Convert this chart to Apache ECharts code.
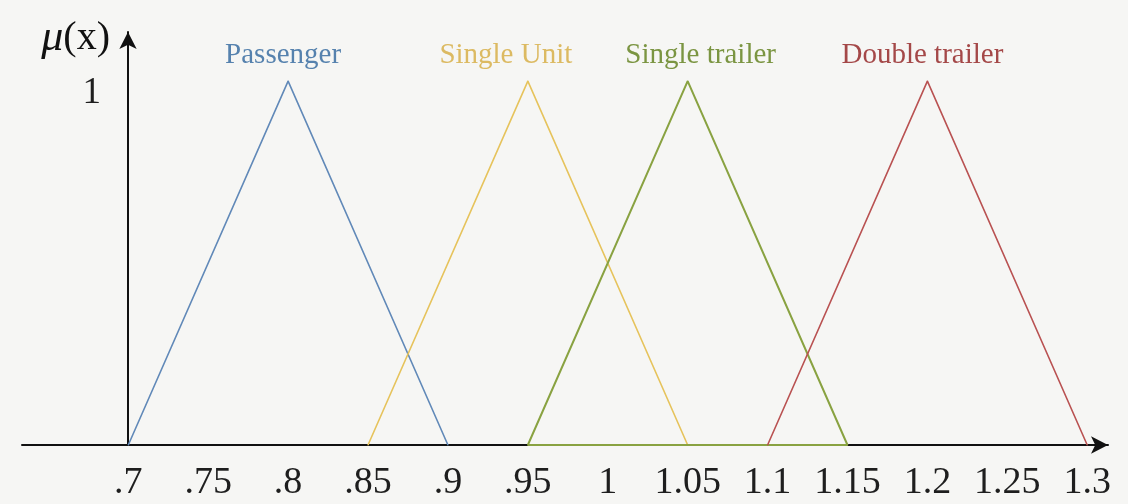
<!DOCTYPE html>
<html>
<head>
<meta charset="utf-8">
<title>Vehicle class membership functions</title>
<script src="https://cdn.jsdelivr.net/npm/echarts@6/dist/echarts.min.js"></script>
<style>
  html, body { margin: 0; padding: 0; background: #f6f6f4; }
  #chart { width: 1128px; height: 504px; }
</style>
</head>
<body>
<div id="chart"></div>
<script>
// Triangular membership functions: [x, mu(x)] corner points
const passenger     = [[0.7, 0], [0.8, 1], [0.9, 0]];
const singleUnit    = [[0.85, 0], [0.95, 1], [1.05, 0]];
const singleTrailer = [[0.95, 0], [1.05, 1], [1.15, 0], [0.95, 0]];
const doubleTrailer = [[1.1, 0], [1.2, 1], [1.3, 0]];

const classNames  = ['Passenger', 'Single Unit', 'Single trailer', 'Double trailer'];
const xTickValues = [0.7, 0.75, 0.8, 0.85, 0.9, 0.95, 1, 1.05, 1.1, 1.15, 1.2, 1.25, 1.3];
const yTickValues = [1];

const SERIF = '"Liberation Serif", "DejaVu Serif", serif';
const lineColors = ['#6189b8', '#e6c35c', '#89a241', '#b95252'];
const textColors = ['#5682ae', '#dcba62', '#7b9542', '#a44848'];
const labelShift = [-5, -22, 13, -5];
const lineWidths = [1.6, 1.6, 2, 1.6];

function triangle(name, data, i) {
  return {
    name: name,
    type: 'line',
    data: data,
    showSymbol: true,
    symbol: 'circle',
    symbolSize: 1,
    itemStyle: { color: lineColors[i] },
    label: {
      show: true,
      position: 'top',
      distance: 11,
      // only the apex carries the class name
      formatter: p => (p.value[1] === 1 ? name : ''),
      color: textColors[i],
      fontFamily: SERIF,
      fontSize: 29
    },
    labelLayout: { hideOverlap: false, dx: labelShift[i] },
    silent: true,
    lineStyle: { color: lineColors[i], width: lineWidths[i] },
    z: 3 + i
  };
}

const chart = echarts.init(document.getElementById('chart'), null, { renderer: 'canvas' });
chart.setOption({
  backgroundColor: '#f6f6f4',
  animation: false,
  grid: { left: 22, right: 20, top: 32, bottom: 59, containLabel: false },
  xAxis: {
    type: 'value',
    min: 0.6335,
    max: 1.313,
    axisLine: {
      show: true,
      symbol: ['none', 'arrow'],
      symbolSize: [13, 17],
      lineStyle: { color: '#111', width: 2 }
    },
    axisTick: { show: false },
    splitLine: { show: false },
    axisLabel: {
      customValues: xTickValues,
      formatter: v => String(+(+v).toFixed(2)).replace(/^0\./, '.'),
      fontFamily: SERIF,
      fontSize: 38,
      color: '#1e1e1e',
      margin: 19
    }
  },
  yAxis: {
    type: 'value',
    min: 0,
    max: 1.135,
    offset: -106,
    name: '{mu|μ}{p|(x)}',
    nameLocation: 'end',
    nameGap: -28,
    nameTextStyle: {
      align: 'right',
      padding: [0, 18, 0, 0],
      rich: {
        mu: { fontFamily: SERIF, fontStyle: 'italic', fontSize: 44, color: '#111' },
        p:  { fontFamily: SERIF, fontSize: 40, color: '#111' }
      }
    },
    axisLine: {
      show: true,
      onZero: false,
      symbol: ['none', 'arrow'],
      symbolSize: [13, 17],
      lineStyle: { color: '#111', width: 2 }
    },
    axisTick: { show: false },
    splitLine: { show: false },
    axisLabel: {
      customValues: yTickValues,
      fontFamily: SERIF,
      fontSize: 37,
      color: '#1e1e1e',
      margin: 27,
      verticalAlign: 'top',
      padding: [-6, 0, 0, 0]
    }
  },
  series: [
    triangle(classNames[0], passenger, 0),
    triangle(classNames[1], singleUnit, 1),
    triangle(classNames[2], singleTrailer, 2),
    triangle(classNames[3], doubleTrailer, 3)
  ]
});
</script>
</body>
</html>
